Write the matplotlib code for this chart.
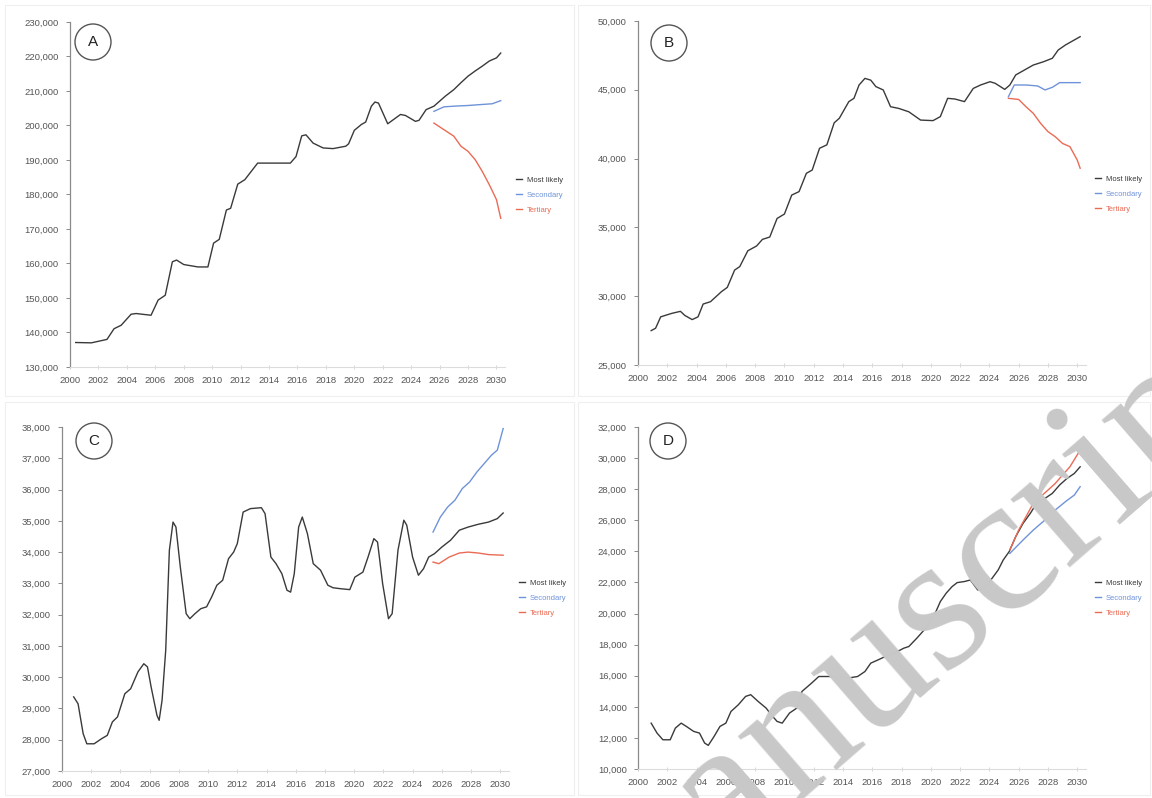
import matplotlib
matplotlib.use("Agg")
import matplotlib.pyplot as plt
from matplotlib.ticker import FuncFormatter, MultipleLocator
from matplotlib.patches import Ellipse, Rectangle

plt.rcParams['font.family'] = ['Liberation Sans', 'DejaVu Sans']

# ---------- data ----------
series_names = ["Most likely", "Secondary", "Tertiary"]
series_colors = ["#3a3a3a", "#6f93d8", "#ea6b55"]

# Panel A
a_years = [2000.4, 2001.5, 2002.6, 2003.1, 2003.6, 2004.3, 2004.65, 2005.7, 2006.2, 2006.7,
           2007.2, 2007.5, 2008.0, 2009.0, 2009.7, 2010.1, 2010.5, 2011.0, 2011.3, 2011.8,
           2012.3, 2013.2, 2015.5, 2015.9, 2016.3, 2016.6, 2017.1, 2017.8, 2018.5, 2019.4,
           2019.6, 2020.0, 2020.5, 2020.8, 2021.2, 2021.45, 2021.7, 2022.35, 2023.25, 2023.6,
           2024.3, 2024.55, 2025.05, 2025.6, 2026.4, 2027.0, 2027.5, 2028.0, 2028.5, 2029.0,
           2029.5, 2030.0, 2030.3]
a_most = [137100, 137000, 138000, 141100, 142100, 145300, 145500, 145000, 149400, 150800,
          160500, 161000, 159700, 159000, 159000, 165900, 167000, 175500, 176000, 183000,
          184300, 189100, 189100, 191000, 197000, 197300, 194900, 193500, 193300, 194000,
          194700, 198600, 200300, 201000, 205600, 206800, 206500, 200500, 203200, 202900,
          201200, 201500, 204600, 205600, 208500, 210400, 212400, 214300, 215800, 217200,
          218700, 219600, 221000]
a_sec_years = [2025.6, 2026.3, 2027.0, 2028.0, 2029.0, 2029.7, 2030.3]
a_sec = [204100, 205400, 205600, 205800, 206100, 206300, 207200]
a_ter_years = [2025.6, 2026.3, 2027.0, 2027.5, 2028.0, 2028.5, 2029.0, 2029.5, 2030.0, 2030.3]
a_ter = [200700, 198800, 196900, 194000, 192500, 190100, 186700, 182800, 178500, 173100]

# Panel B
b_years = [2000.9, 2001.2, 2001.55, 2002.3, 2002.9, 2003.2, 2003.7, 2004.1, 2004.45, 2004.95,
           2005.7, 2006.1, 2006.6, 2006.95, 2007.5, 2008.1, 2008.5, 2009.0, 2009.5, 2010.0,
           2010.5, 2011.0, 2011.5, 2011.9, 2012.4, 2012.9, 2013.4, 2013.75, 2014.4, 2014.75,
           2015.1, 2015.5, 2015.9, 2016.25, 2016.75, 2017.25, 2017.8, 2018.5, 2019.3, 2020.15,
           2020.65, 2021.15, 2021.65, 2022.3, 2022.9, 2023.4, 2024.05, 2024.4, 2025.05, 2025.4,
           2025.8, 2026.2, 2027.0, 2027.7, 2028.3, 2028.7, 2029.2, 2029.6, 2030.2]
b_most = [27500, 27670, 28500, 28750, 28900, 28600, 28300, 28500, 29430, 29600,
          30330, 30640, 31900, 32150, 33300, 33650, 34130, 34300, 35650, 35970,
          37350, 37600, 38930, 39170, 40750, 41000, 42600, 42930, 44140, 44380,
          45350, 45830, 45700, 45230, 44990, 43770, 43650, 43400, 42800, 42760,
          43050, 44380, 44330, 44140, 45100, 45350, 45590, 45470, 45030, 45350,
          46080, 46320, 46800, 47040, 47290, 47890, 48260, 48500, 48860]
b_sec_years = [2025.3, 2025.7, 2026.5, 2027.3, 2027.8, 2028.3, 2028.8, 2030.2]
b_sec = [44500, 45350, 45350, 45280, 44990, 45180, 45520, 45520]
b_ter_years = [2025.3, 2026.0, 2026.5, 2027.0, 2027.5, 2028.0, 2028.5, 2029.0, 2029.5, 2030.0, 2030.2]
b_ter = [44380, 44300, 43770, 43290, 42560, 41960, 41590, 41100, 40870, 39900, 39300]

# Panel C
c_years = [2000.8, 2001.1, 2001.45, 2001.7, 2002.2, 2002.7, 2003.1, 2003.45, 2003.8, 2004.3,
           2004.7, 2005.2, 2005.6, 2005.85, 2006.1, 2006.5, 2006.65, 2006.85, 2007.1, 2007.35,
           2007.6, 2007.8, 2008.1, 2008.5, 2008.75, 2009.1, 2009.5, 2009.9, 2010.25, 2010.6,
           2011.0, 2011.4, 2011.75, 2012.0, 2012.4, 2012.9, 2013.65, 2013.9, 2014.3, 2014.65,
           2015.05, 2015.4, 2015.65, 2015.9, 2016.2, 2016.45, 2016.8, 2017.2, 2017.7, 2018.2,
           2018.55, 2019.05, 2019.7, 2020.05, 2020.6, 2020.95, 2021.35, 2021.6, 2021.95, 2022.35,
           2022.6, 2023.0, 2023.4, 2023.6, 2024.0, 2024.4, 2024.75, 2025.1, 2025.5,
           2026.0, 2026.6, 2027.2, 2027.8, 2028.5, 2029.2, 2029.8, 2030.2]
c_most = [29370, 29150, 28190, 27870, 27870, 28030, 28140, 28570, 28730, 29470,
          29630, 30170, 30430, 30330, 29690, 28780, 28620, 29260, 30860, 34060,
          34960, 34800, 33520, 32030, 31870, 32030, 32190, 32250, 32570, 32940,
          33100, 33790, 34000, 34270, 35280, 35390, 35420, 35230, 33840, 33630,
          33310, 32780, 32720, 33310, 34800, 35120, 34590, 33630, 33420, 32940,
          32860, 32830, 32800, 33200, 33360, 33840, 34430, 34320, 32990, 31870,
          32030, 34060, 35020, 34860, 33840, 33260, 33470, 33840, 33950,
          34160, 34380, 34700, 34800, 34890, 34960, 35070, 35250]
c_sec_years = [2025.4, 2025.9, 2026.4, 2026.9, 2027.4, 2027.9, 2028.4, 2028.9, 2029.4, 2029.8, 2030.2]
c_sec = [34640, 35120, 35440, 35660, 36030, 36240, 36560, 36830, 37100, 37260, 37950]
c_ter_years = [2025.4, 2025.8, 2026.5, 2027.2, 2027.8, 2028.5, 2029.2, 2030.2]
c_ter = [33680, 33630, 33840, 33970, 34000, 33970, 33920, 33900]

# Panel D
d_years = [2000.9, 2001.3, 2001.7, 2002.2, 2002.55, 2002.95, 2003.3, 2003.8, 2004.2, 2004.55,
           2004.8, 2005.2, 2005.6, 2006.0, 2006.35, 2006.85, 2007.35, 2007.7, 2008.2, 2008.75,
           2009.1, 2009.5, 2009.85, 2010.35, 2010.85, 2011.2, 2011.85, 2012.35, 2013.35, 2014.35,
           2015.0, 2015.5, 2015.9, 2016.4, 2016.9, 2017.5, 2018.15, 2018.5, 2019.05, 2019.55,
           2019.9, 2020.3, 2020.65, 2021.05, 2021.45, 2021.8, 2022.3, 2022.7, 2023.2, 2023.7,
           2024.1, 2024.6, 2024.95, 2025.35, 2025.8, 2026.3, 2026.8, 2027.3, 2027.8, 2028.3,
           2028.8, 2029.3, 2029.8, 2030.2]
d_most = [12950, 12310, 11880, 11880, 12630, 12950, 12740, 12420, 12310, 11670,
          11520, 12100, 12740, 12950, 13700, 14130, 14670, 14780, 14350, 13920,
          13490, 13060, 12950, 13600, 13920, 14990, 15520, 15950, 15950, 15850,
          15950, 16270, 16810, 17020, 17240, 17450, 17770, 17880, 18420, 18950,
          19380, 20020, 20770, 21310, 21730, 21990, 22060, 22160, 21520, 21630,
          22160, 22800, 23450, 23980, 24950, 25800, 26450, 27200, 27410, 27730,
          28270, 28690, 29010, 29440]
d_sec_years = [2025.4, 2026.3, 2027.0, 2027.8, 2028.5, 2029.2, 2029.8, 2030.2]
d_sec = [23870, 24730, 25370, 26020, 26660, 27200, 27620, 28160]
d_ter_years = [2025.4, 2026.0, 2026.5, 2027.0, 2027.5, 2028.0, 2028.5, 2029.0, 2029.5, 2030.2]
d_ter = [24090, 25370, 26230, 27090, 27520, 27940, 28370, 28910, 29440, 30510]

panel_letters = ["A", "B", "C", "D"]
panel_ylims = [(130000, 230000), (25000, 50000), (27000, 38000), (10000, 32000)]
panel_ysteps = [10000, 5000, 1000, 2000]

# ---------- layout (pixel boxes of the reference) ----------
W, H = 1152, 798
# left px, right px (at x=2030.6), bottom px, top px
axes_px = [(70, 505, 367, 22), (638, 1086, 365, 21), (62, 509, 771, 427), (638, 1086, 769, 427)]
circle_px = [(93, 42), (669, 43), (94, 441), (668, 441)]
legend_px = [(509, 195), (1088, 194), (512, 598), (1088, 598)]
frame_px = [(5, 5, 574, 396), (578, 5, 1150, 396), (5, 402, 574, 795), (578, 402, 1150, 795)]

fig = plt.figure(figsize=(W / 100, H / 100), dpi=100)

data = [
    (a_years, a_most, a_sec_years, a_sec, a_ter_years, a_ter),
    (b_years, b_most, b_sec_years, b_sec, b_ter_years, b_ter),
    (c_years, c_most, c_sec_years, c_sec, c_ter_years, c_ter),
    (d_years, d_most, d_sec_years, d_sec, d_ter_years, d_ter),
]

for i, (yrs, most, sy, sv, ty, tv) in enumerate(data):
    x0, x1, yb, yt = axes_px[i]
    fx0, fy0, fx1, fy1 = frame_px[i]
    fig.add_artist(Rectangle((fx0 / W, 1 - fy1 / H), (fx1 - fx0) / W, (fy1 - fy0) / H,
                             transform=fig.transFigure, fill=False, ec="#efefef", lw=0.8))

    ax = fig.add_axes([x0 / W, 1 - yb / H, (x1 - x0) / W, (yb - yt) / H])
    ax.plot(yrs, most, color=series_colors[0], lw=1.0, label=series_names[0])
    ax.plot(sy, sv, color=series_colors[1], lw=1.0, label=series_names[1])
    ax.plot(ty, tv, color=series_colors[2], lw=1.0, label=series_names[2])

    ax.set_xlim(2000, 2030.6)
    ax.set_ylim(*panel_ylims[i])
    ax.xaxis.set_major_locator(MultipleLocator(2))
    ax.yaxis.set_major_locator(MultipleLocator(panel_ysteps[i]))
    ax.yaxis.set_major_formatter(FuncFormatter(lambda v, p: f"{v:,.0f}"))

    for s in ["top", "right"]:
        ax.spines[s].set_visible(False)
    ax.spines["left"].set_color("#8a8a8a")
    ax.spines["left"].set_linewidth(0.9)
    ax.spines["bottom"].set_color("#dcdcdc")
    ax.spines["bottom"].set_linewidth(0.8)
    ax.tick_params(axis="y", length=3, width=0.7, color="#8a8a8a", labelsize=6.8,
                   labelcolor="#555555", pad=5)
    ax.tick_params(axis="x", length=3, width=0.6, color="#d0d0d0", direction="inout",
                   labelsize=6.8, labelcolor="#555555", pad=5)

    cx, cy = circle_px[i]
    fig.add_artist(Ellipse((cx / W, 1 - cy / H), 36 / W, 36 / H, transform=fig.transFigure,
                           fill=False, ec="#555555", lw=1.0))
    fig.text(cx / W, 1 - cy / H, panel_letters[i], ha="center", va="center",
             fontsize=11, color="#222222")

    lx, ly = legend_px[i]
    ax.legend(loc="center left", bbox_to_anchor=(lx / W, 1 - ly / H),
              bbox_transform=fig.transFigure, frameon=False, fontsize=5.5,
              handlelength=0.8, handletextpad=0.6, labelspacing=1.0,
              labelcolor="linecolor")

# watermark over the lower right panel
fig.text(612 / W, 1 - 962 / H, "manuscript", rotation=41, rotation_mode="anchor",
         ha="left", va="baseline", fontsize=142, family="Liberation Serif",
         color="#c8c8c8", zorder=20)

fig.savefig("out.png", dpi=100)
